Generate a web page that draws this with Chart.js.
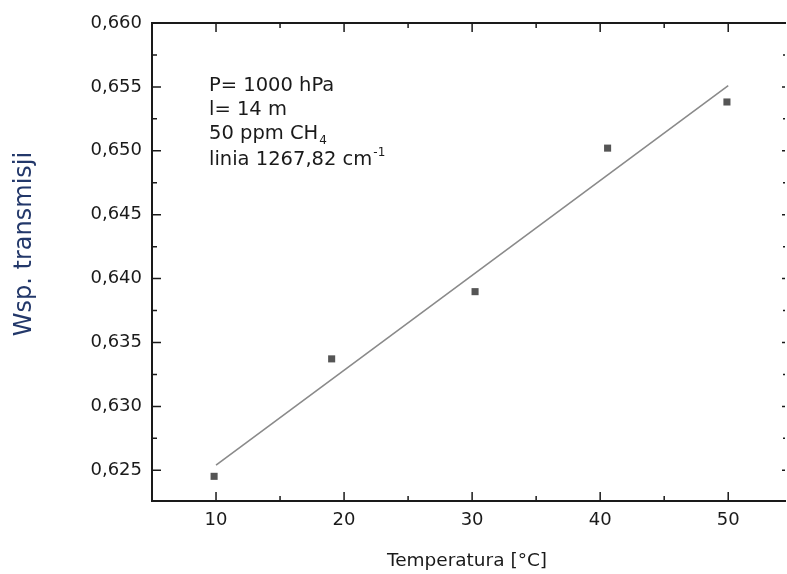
<!DOCTYPE html>
<html>
<head>
<meta charset="utf-8">
<script src="https://cdn.jsdelivr.net/npm/chart.js@4.4.1/dist/chart.umd.min.js"></script>
<style>
html,body{margin:0;padding:0;background:#fff;}
#wrap{width:787px;height:574px;position:relative;}
</style>
</head>
<body>
<div id="wrap"><canvas id="c" width="787" height="574"></canvas></div>
<script>
// Data
const temperatures = [9.85, 19.03, 30.23, 40.58, 49.9];
const transmission = [0.62453, 0.63372, 0.63898, 0.65021, 0.65382];
const fitX = [10, 50];
const fitY = [0.6254, 0.6551];
const xTicks = [10, 20, 30, 40, 50];
const xMinorTicks = [15, 25, 35, 45];
const yTicks = [0.625, 0.630, 0.635, 0.640, 0.645, 0.650, 0.655, 0.660];
const yMinorTicks = [0.6275, 0.6325, 0.6375, 0.6425, 0.6475, 0.6525, 0.6575];
const annotationLines = ['P= 1000 hPa', 'l= 14 m', '50 ppm CH', 'linia 1267,82 cm'];
const xTitle = 'Temperatura [°C]';
const yTitle = 'Wsp. transmisji';

const FONT = '"DejaVu Sans", sans-serif';

const framePlugin = {
  id: 'frame',
  afterDraw(chart) {
    const ctx = chart.ctx;
    const a = chart.chartArea;
    const xs = chart.scales.x, ys = chart.scales.y;
    ctx.save();
    ctx.strokeStyle = '#1a1a1a';
    ctx.lineWidth = 2;
    ctx.beginPath();
    ctx.moveTo(a.left, a.bottom);
    ctx.lineTo(a.left, a.top);
    ctx.lineTo(a.right + 4, a.top);
    ctx.moveTo(a.left - 1, a.bottom);
    ctx.lineTo(a.right + 4, a.bottom);
    ctx.stroke();
    ctx.lineWidth = 1.5;
    ctx.beginPath();
    const tick = (x1, y1, x2, y2) => { ctx.moveTo(x1, y1); ctx.lineTo(x2, y2); };
    const rx = a.right + 3;
    xTicks.forEach(v => { const p = xs.getPixelForValue(v); tick(p, a.bottom, p, a.bottom - 9); tick(p, a.top, p, a.top + 9); });
    xMinorTicks.forEach(v => { const p = xs.getPixelForValue(v); tick(p, a.bottom, p, a.bottom - 5); tick(p, a.top, p, a.top + 5); });
    yTicks.forEach(v => { const p = ys.getPixelForValue(v); tick(a.left, p, a.left + 9, p); tick(rx, p, rx - 3, p); });
    yMinorTicks.forEach(v => { const p = ys.getPixelForValue(v); tick(a.left, p, a.left + 5, p); tick(rx, p, rx - 2, p); });
    ctx.stroke();

    // annotation text
    ctx.fillStyle = '#1a1a1a';
    ctx.textBaseline = 'alphabetic';
    ctx.textAlign = 'left';
    const big = '19.5px ' + FONT, small = '12px ' + FONT;
    const tx = 209;
    const baselines = [91, 115, 139, 165];
    annotationLines.forEach((t, i) => {
      ctx.font = big;
      ctx.fillText(t, tx, baselines[i]);
      const w = ctx.measureText(t).width;
      if (i === 2) { ctx.font = small; ctx.fillText('4', tx + w + 1, baselines[i] + 5); }
      if (i === 3) { ctx.font = small; ctx.fillText('-1', tx + w + 1, baselines[i] - 9); }
    });

    // axis titles
    ctx.font = '18.5px ' + FONT;
    ctx.textAlign = 'center';
    ctx.textBaseline = 'middle';
    ctx.fillText(xTitle, (a.left + a.right) / 2, 561);
    ctx.save();
    ctx.translate(25, 244);
    ctx.rotate(-Math.PI / 2);
    ctx.font = '24px ' + FONT;
    ctx.fillStyle = '#23386a';
    ctx.fillText(yTitle, 0, 0);
    ctx.restore();
    ctx.restore();
  }
};

new Chart(document.getElementById('c'), {
  type: 'scatter',
  data: {
    datasets: [
      {
        label: 'fit',
        type: 'line',
        data: fitX.map((x, i) => ({ x, y: fitY[i] })),
        borderColor: '#8a8a8a',
        borderWidth: 1.6,
        pointRadius: 0,
        fill: false,
        tension: 0
      },
      {
        label: 'pomiar',
        data: temperatures.map((x, i) => ({ x, y: transmission[i] })),
        pointStyle: 'rect',
        pointRadius: 5,
        backgroundColor: '#555',
        borderColor: '#555',
        borderWidth: 0
      }
    ]
  },
  options: {
    responsive: false,
    animation: false,
    devicePixelRatio: 1,
    layout: { padding: { top: 23, right: 0, left: 0, bottom: 0 } },
    plugins: { legend: { display: false }, tooltip: { enabled: false }, title: { display: false } },
    scales: {
      x: {
        type: 'linear',
        min: 5,
        max: 54.2,
        grid: { display: false, drawTicks: false },
        border: { display: false },
        afterBuildTicks: s => { s.ticks = xTicks.map(v => ({ value: v })); },
        afterFit: s => { s.height = 73; },
        ticks: {
          padding: 9,
          color: '#1a1a1a',
          font: { family: FONT, size: 18 },
          callback: v => String(v)
        }
      },
      y: {
        type: 'linear',
        min: 0.6226,
        max: 0.660,
        grid: { display: false, drawTicks: false },
        border: { display: false },
        afterBuildTicks: s => { s.ticks = yTicks.map(v => ({ value: v })); },
        afterFit: s => { s.width = 152; },
        ticks: {
          padding: 10,
          color: '#1a1a1a',
          font: { family: FONT, size: 18 },
          callback: v => v.toFixed(3).replace('.', ',')
        }
      }
    }
  },
  plugins: [framePlugin]
});
</script>
</body>
</html>
